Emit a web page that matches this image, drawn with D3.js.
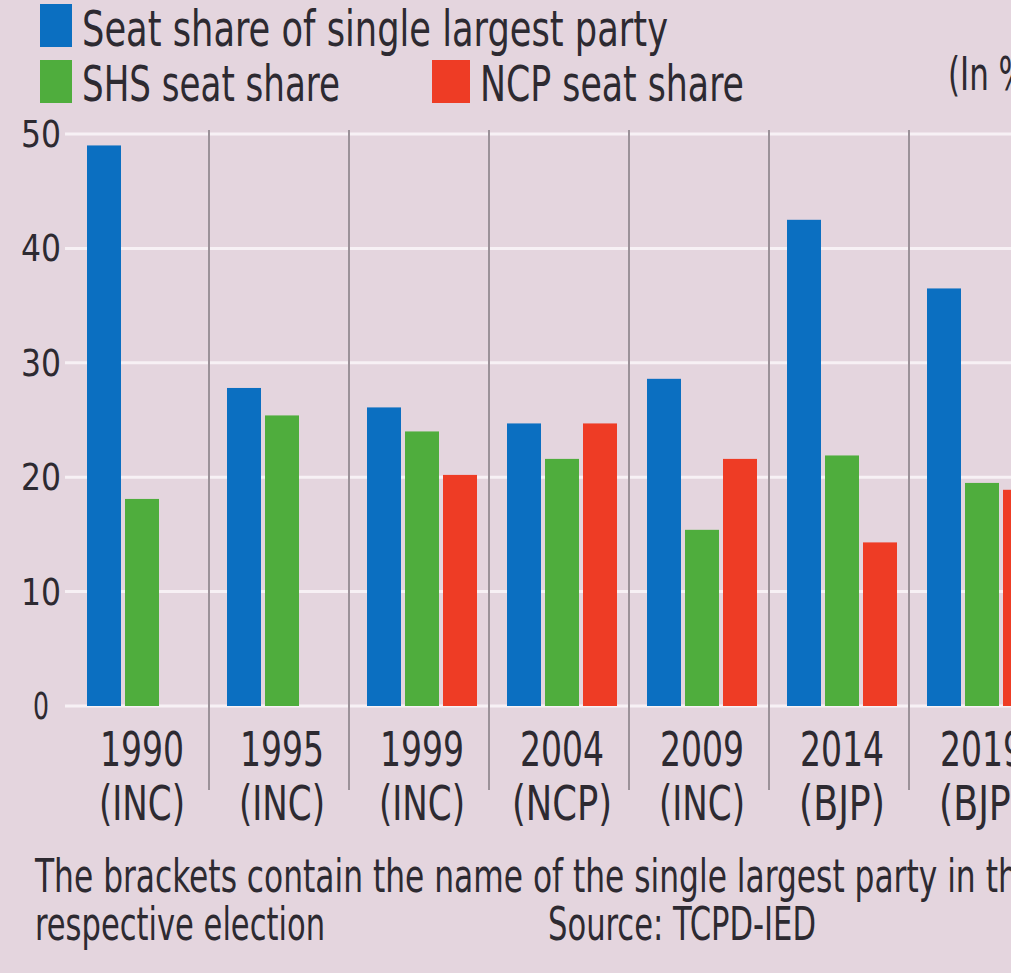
<!DOCTYPE html>
<html><head><meta charset="utf-8">
<script src="https://cdn.jsdelivr.net/npm/d3@7"></script>
<style>
html,body{margin:0;padding:0;background:#e4d5de;overflow:hidden;}
svg{display:block;}
text{font-family:"Liberation Sans Narrow","DejaVu Sans Condensed","Roboto",sans-serif;fill:#2d2a31;}
</style></head><body>
<svg id="c" width="1011" height="973"></svg>
<script>
const years = ["1990","1995","1999","2004","2009","2014","2019"];
const parties = ["(INC)","(INC)","(INC)","(NCP)","(INC)","(BJP)","(BJP)"];
const seriesNames = ["Seat share of single largest party","SHS seat share","NCP seat share"];
const seriesKeys = ["largest","shs","ncp"];
const largest = [49.0, 27.8, 26.1, 24.7, 28.6, 42.5, 36.5];
const shs     = [18.1, 25.4, 24.0, 21.6, 15.4, 21.9, 19.5];
const ncp     = [null, null, 20.2, 24.7, 21.6, 14.3, 18.9];
const yTicks = [0,10,20,30,40,50];
const colors = ["#0b6fc1","#4fad3d","#ee3c25"];

const svg = d3.select("#c");
svg.append("rect").attr("width",1011).attr("height",973).attr("fill","#e4d5de");

const y = d3.scaleLinear().domain([0,50]).range([706,134]);
const x = d3.scaleBand().domain(years).range([87,1037]).paddingInner(30/140).paddingOuter(0);
const xi = d3.scaleBand().domain(seriesKeys).range([0,x.bandwidth()]).paddingInner(4/38);

// gridlines
svg.append("g").selectAll("line").data(yTicks).join("line")
  .attr("x1",65).attr("x2",1011)
  .attr("y1",d=>y(d)).attr("y2",d=>y(d))
  .attr("stroke","#f7f1f5").attr("stroke-width",3);

// separators
svg.append("g").selectAll("line").data(years.slice(1)).join("line")
  .attr("x1",d=>x(d)-18).attr("x2",d=>x(d)-18)
  .attr("y1",y(50)-4).attr("y2",790)
  .attr("stroke","#9b9299").attr("stroke-width",2);

// y tick labels
svg.append("g").selectAll("text").data(yTicks).join("text")
  .attr("x",41).attr("y",d=>y(d)+13)
  .attr("text-anchor","middle").attr("font-size",38)
  .attr("textLength",d=>String(d).length>1?40:16).attr("lengthAdjust","spacingAndGlyphs")
  .text(d=>d);

// bars
const rows = years.map((yr,i)=>({year:yr, vals:[largest[i],shs[i],ncp[i]]}));
const g = svg.append("g").selectAll("g").data(rows).join("g")
  .attr("transform",d=>`translate(${x(d.year)},0)`);
g.selectAll("rect").data(d=>d.vals.map((v,j)=>({k:seriesKeys[j],v,j})).filter(e=>e.v!=null)).join("rect")
  .attr("x",e=>xi(e.k)).attr("width",xi.bandwidth())
  .attr("y",e=>y(e.v)).attr("height",e=>y(0)-y(e.v))
  .attr("fill",e=>colors[e.j]);

// x labels
const xl = svg.append("g");
xl.selectAll("text.yr").data(years).join("text").attr("class","yr")
  .attr("x",d=>x(d)+x.bandwidth()/2).attr("y",766)
  .attr("text-anchor","middle").attr("font-size",48)
  .attr("textLength",84).attr("lengthAdjust","spacingAndGlyphs").text(d=>d);
xl.selectAll("text.pt").data(years).join("text").attr("class","pt")
  .attr("x",d=>x(d)+x.bandwidth()/2).attr("y",820)
  .attr("text-anchor","middle").attr("font-size",48)
  .attr("textLength",(d,i)=>parties[i]==="(NCP)"?100:86).attr("lengthAdjust","spacingAndGlyphs")
  .text((d,i)=>parties[i]);

// legend
const legendPos = [{x:40,y:4,tx:82,ty:46,w:586},{x:40,y:60,tx:82,ty:101,w:258},{x:432,y:60,tx:480,ty:101,w:264}];
const lg = svg.append("g");
legendPos.forEach((p,i)=>{
  lg.append("rect").attr("x",p.x).attr("y",p.y).attr("width",i===2?38:32).attr("height",43).attr("fill",colors[i]);
  lg.append("text").attr("x",p.tx).attr("y",p.ty).attr("font-size",50)
    .attr("textLength",p.w).attr("lengthAdjust","spacingAndGlyphs").text(seriesNames[i]);
});
svg.append("text").attr("x",948).attr("y",90).attr("font-size",46)
  .attr("textLength",92).attr("lengthAdjust","spacingAndGlyphs").text("(In %)");

// footnote
svg.append("text").attr("x",35).attr("y",892).attr("font-size",47)
  .attr("textLength",1002).attr("lengthAdjust","spacingAndGlyphs")
  .text("The brackets contain the name of the single largest party in the");
svg.append("text").attr("x",35).attr("y",940).attr("font-size",47)
  .attr("textLength",290).attr("lengthAdjust","spacingAndGlyphs").text("respective election");
svg.append("text").attr("x",548).attr("y",940).attr("font-size",47)
  .attr("textLength",268).attr("lengthAdjust","spacingAndGlyphs").text("Source: TCPD-IED");
</script></body></html>
